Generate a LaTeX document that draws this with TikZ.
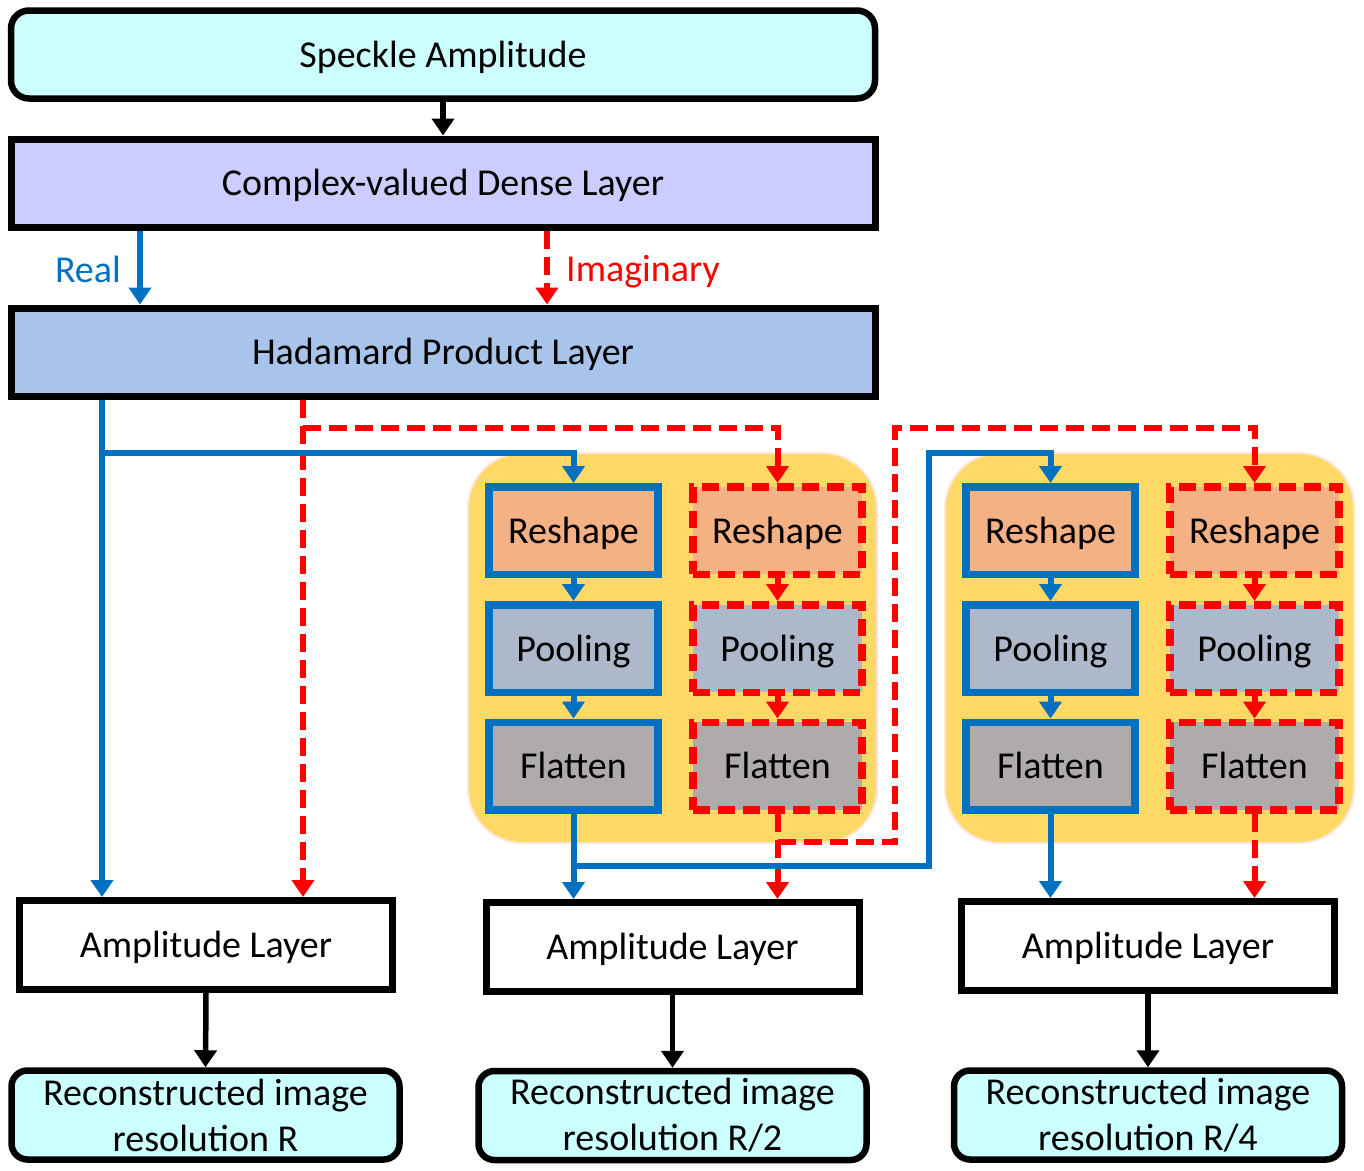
\documentclass[tikz,border=0pt]{standalone}
\usepackage{fontspec}
\setmainfont{Carlito}
\usetikzlibrary{arrows.meta}
\definecolor{cyanbox}{HTML}{CCFFFF}
\definecolor{densec}{HTML}{CCCCFF}
\definecolor{hadc}{HTML}{A9C4EB}
\definecolor{reshc}{HTML}{F4B183}
\definecolor{poolc}{HTML}{ADB9CA}
\definecolor{flatc}{HTML}{AFABAB}
\definecolor{yellc}{HTML}{FFD966}
\definecolor{yellb}{HTML}{FBE5D6}
\definecolor{myblue}{HTML}{0070C0}
\definecolor{myred}{HTML}{FF0000}
\tikzset{
  oneline/.style={text height=35pt, text depth=10pt},
  bigbox/.style={draw=black, line width=7pt, inner sep=0pt, oneline,
    minimum width=864pt, minimum height=88pt},
  roundbox/.style={bigbox, line width=6.5pt, rounded corners=18pt, fill=cyanbox},
  ampbox/.style={draw=black, line width=7pt, inner sep=0pt, fill=white, oneline,
    minimum width=373pt, minimum height=89pt},
  recbox/.style={draw=black, line width=6.5pt, inner sep=0pt, fill=cyanbox,
    rounded corners=16pt, align=center, minimum width=388pt, minimum height=89pt,
    font=\fontsize{38}{46}\selectfont},
  smallbox/.style={line width=7.5pt, inner sep=0pt, oneline, minimum width=169pt, minimum height=87.5pt},
  realbox/.style={smallbox, draw=myblue},
  imagbox/.style={smallbox, draw=myred, dash pattern=on 17pt off 8pt},
  tip/.style={-{Triangle[width=22pt,length=17pt]}},
  bl/.style={draw=myblue, line width=6pt, tip},
  rd/.style={draw=myred, line width=6pt, dash pattern=on 18pt off 8pt, tip},
  bk/.style={draw=black, line width=5.5pt, tip},
  region/.style={fill=yellc, draw=yellb, line width=2pt, rounded corners=55pt}
}
\begin{document}
\begin{tikzpicture}[x=1pt,y=-1pt, font=\fontsize{38}{46}\selectfont]
\useasboundingbox (0,0) rectangle (1364,1170);
% regions
\path[region] (468,453) rectangle (877,843);
\path[region] (945,453) rectangle (1354,843);
% top boxes
\node[roundbox] (speckle) at (443,54.5) {Speckle Amplitude};
\node[bigbox, fill=densec] (dense) at (443,183) {Complex-valued Dense Layer};
\node[bigbox, fill=hadc] (had) at (443,352) {Hadamard Product Layer};
\node[anchor=base east, text=myblue, inner sep=0pt] (real) at (121,282) {Real};
\node[anchor=base west, text=myred, inner sep=0pt] (imag) at (566,281) {Imaginary};
% group 1
\node[realbox, fill=reshc] (rsL1) at (573.5,530.5) {Reshape};
\node[realbox, fill=poolc] (plL1) at (573.5,648.5) {Pooling};
\node[realbox, fill=flatc] (flL1) at (573.5,766) {Flatten};
\node[imagbox, fill=reshc] (rsR1) at (777.5,530.5) {Reshape};
\node[imagbox, fill=poolc] (plR1) at (777.5,648.5) {Pooling};
\node[imagbox, fill=flatc] (flR1) at (777.5,766) {Flatten};
% group 2
\node[realbox, fill=reshc] (rsL2) at (1050.5,530.5) {Reshape};
\node[realbox, fill=poolc] (plL2) at (1050.5,648.5) {Pooling};
\node[realbox, fill=flatc] (flL2) at (1050.5,766) {Flatten};
\node[imagbox, fill=reshc] (rsR2) at (1254.5,530.5) {Reshape};
\node[imagbox, fill=poolc] (plR2) at (1254.5,648.5) {Pooling};
\node[imagbox, fill=flatc] (flR2) at (1254.5,766) {Flatten};
% amplitude layers
\node[ampbox] (amp1) at (206,945) {Amplitude Layer};
\node[ampbox] (amp2) at (672.5,947) {Amplitude Layer};
\node[ampbox] (amp3) at (1148,946) {Amplitude Layer};
% reconstructed
\node[recbox] (rec1) at (205.5,1115) {Reconstructed image\\resolution R};
\node[recbox] (rec2) at (672.5,1115.5) {Reconstructed image\\resolution R/2};
\node[recbox] (rec3) at (1148,1115) {Reconstructed image\\resolution R/4};
% lane coordinates
\coordinate (xra) at (140,0);
\coordinate (xia) at (547,0);
\coordinate (xb) at (102,0);
\coordinate (xr) at (303,0);
\coordinate (bj1) at (102,453);
\coordinate (rj1) at (303,428);
\coordinate (bj2) at (573.5,866);
\coordinate (rj2) at (777.5,842);
% connectors top
\draw[bk] (speckle.south) -- (dense.north);
\draw[bl] (dense.south -| xra) -- (had.north -| xra);
\draw[rd] (dense.south -| xia) -- (had.north -| xia);
% main lines to amp1
\draw[bl] (had.south -| xb) -- (amp1.north -| xb);
\draw[rd] (had.south -| xr) -- (amp1.north -| xr);
% branches into group 1
\draw[rd] (rj1) -| (rsR1.north);
\draw[bl] (bj1) -| (rsL1.north);
% group internals
\draw[bl] (rsL1.south) -- (plL1.north);
\draw[bl] (plL1.south) -- (flL1.north);
\draw[rd] (rsR1.south) -- (plR1.north);
\draw[rd] (plR1.south) -- (flR1.north);
\draw[bl] (rsL2.south) -- (plL2.north);
\draw[bl] (plL2.south) -- (flL2.north);
\draw[rd] (rsR2.south) -- (plR2.north);
\draw[rd] (plR2.south) -- (flR2.north);
% group 1 to amp2
\draw[bl] (flL1.south) -- (amp2.north -| flL1.south);
\draw[rd] (flR1.south) -- (amp2.north -| flR1.south);
% branches into group 2
\draw[rd] (rj2) -- (895,842) -- (895,428) -| (rsR2.north);
\draw[bl] (bj2) -- (929,866) -- (929,453) -| (rsL2.north);
% group 2 to amp3
\draw[bl] (flL2.south) -- (amp3.north -| flL2.south);
\draw[rd] (flR2.south) -- (amp3.north -| flR2.south);
% amp to reconstructed
\draw[bk] (amp1.south) -- (rec1.north);
\draw[bk] (amp2.south) -- (rec2.north);
\draw[bk] (amp3.south) -- (rec3.north);
\end{tikzpicture}
\end{document}
